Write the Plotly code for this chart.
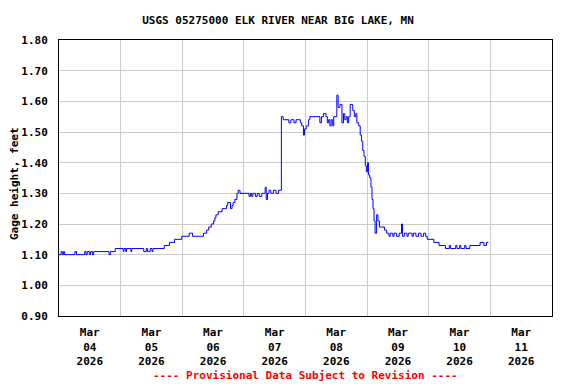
import pandas as pd
import plotly.graph_objects as go

# Hours after 2026-03-04 00:00 at which the reading changes, and the gage height (ft)
hours = [0.0, 0.8, 1.3, 1.8, 2.2, 6.2, 6.8, 10.0, 10.5, 11.0, 11.8, 12.3, 13.0, 13.5, 19.5, 20.0, 21.9,
         25.0, 25.3, 26.0, 26.3, 28.0, 28.3, 33.0, 34.0, 34.5, 35.5, 36.2, 36.6, 41.0, 43.0, 45.0, 47.8,
         50.7, 52.0, 56.3, 57.5, 58.3, 59.3, 60.2, 60.7, 61.1, 62.0, 63.5, 65.2, 65.7, 66.2, 66.8, 67.4,
         67.8, 68.5, 69.3, 69.8, 70.5,
         74.0, 74.5, 75.0, 75.5, 76.5, 77.2, 78.0, 79.0, 80.3, 80.7, 81.2, 81.8, 82.5, 83.5, 84.5, 85.5,
         86.6, 87.3, 89.5, 90.3, 91.5, 92.3, 94.0, 94.5, 95.2, 95.6,
         96.3, 97.2, 97.7, 101.6, 102.2, 103.0, 104.0, 104.5, 105.0, 105.5, 106.0, 106.6, 107.0, 108.2,
         108.7, 109.4, 110.2, 110.8, 111.3, 111.8, 112.3, 112.8, 113.4, 114.4, 115.0, 115.6, 116.0, 116.7,
         117.3, 117.8, 118.3, 118.8, 119.3, 119.7,
         120.2, 120.5, 121.0, 121.5, 121.9, 122.3, 122.7, 123.1, 123.7, 124.2, 124.8, 126.8, 127.6, 128.5,
         129.0, 130.0, 130.5, 131.5, 132.5, 133.4, 133.8, 134.5, 135.5, 136.0, 137.5, 138.0, 139.0, 140.0,
         141.0, 142.0, 142.8, 143.4,
         146.0, 148.0, 150.5, 152.0, 152.5, 154.5, 155.0, 156.0, 156.5, 158.0, 158.5, 160.0, 164.0, 165.5,
         166.5, 167.2]
gage_ft = [1.10, 1.11, 1.10, 1.11, 1.10, 1.11, 1.10, 1.11, 1.10, 1.11, 1.10, 1.11, 1.10, 1.11, 1.10, 1.11, 1.12,
           1.11, 1.12, 1.11, 1.12, 1.11, 1.12, 1.11, 1.12, 1.11, 1.12, 1.11, 1.12, 1.13, 1.14, 1.15, 1.16,
           1.17, 1.16, 1.17, 1.18, 1.19, 1.20, 1.21, 1.22, 1.23, 1.24, 1.25, 1.26, 1.27, 1.27, 1.25, 1.26,
           1.27, 1.28, 1.30, 1.31, 1.30,
           1.29, 1.30, 1.29, 1.30, 1.29, 1.30, 1.29, 1.30, 1.32, 1.28, 1.30, 1.31, 1.30, 1.31, 1.30, 1.31,
           1.55, 1.54, 1.53, 1.54, 1.53, 1.54, 1.53, 1.52, 1.49, 1.51,
           1.52, 1.54, 1.55, 1.53, 1.55, 1.56, 1.55, 1.53, 1.54, 1.52, 1.54, 1.52, 1.55, 1.62,
           1.58, 1.59, 1.53, 1.56, 1.54, 1.55, 1.53, 1.55, 1.59, 1.57, 1.55, 1.56, 1.53, 1.52,
           1.49, 1.47, 1.44, 1.42, 1.39, 1.37,
           1.40, 1.36, 1.35, 1.32, 1.28, 1.25, 1.21, 1.17, 1.23, 1.21, 1.19, 1.18, 1.17, 1.16,
           1.17, 1.16, 1.17, 1.16, 1.17, 1.20, 1.16, 1.17, 1.16, 1.17, 1.16, 1.17, 1.16, 1.17,
           1.16, 1.17, 1.16, 1.15,
           1.14, 1.13, 1.12, 1.13, 1.12, 1.13, 1.12, 1.13, 1.12, 1.13, 1.12, 1.13, 1.14, 1.13,
           1.14, 1.14]

start = pd.Timestamp("2026-03-04 00:00")
times = [start + pd.Timedelta(hours=h) for h in hours]

FONT = "DejaVu Sans Mono"
W, H = 568, 376  # page body has an 8px default margin

fig = go.Figure()
fig.add_trace(go.Scatter(x=times, y=gage_ft, mode="lines",
                         line=dict(color="#0000ff", width=1, shape="hv"),
                         showlegend=False))

fig.update_layout(
    width=W, height=H,
    margin=dict(l=51, r=24, t=32, b=68),
    paper_bgcolor="white", plot_bgcolor="white",
    font=dict(family=FONT, size=11, color="black", weight="bold"),
    title=dict(text="USGS 05275000 ELK RIVER NEAR BIG LAKE, MN",
               x=270 / W, xanchor="center", xref="container",
               y=1 - 12 / H, yanchor="middle", yref="container",
               font=dict(family=FONT, size=11, color="black", weight="bold")),
)

fig.update_xaxes(
    type="date",
    range=["2026-03-04", "2026-03-12"],
    tick0="2026-03-04", dtick=86400000,
    ticklabelmode="period",
    tickformat="%b<br>%d<br>%Y",
    showgrid=True, gridcolor="#cccccc", gridwidth=1,
    showline=True, linecolor="black", linewidth=1, mirror=True,
    ticks="", ticklabelstandoff=6,
    tickfont=dict(family=FONT, size=11, color="black", weight="bold"),
    zeroline=False,
)
fig.update_yaxes(
    range=[0.90, 1.80],
    tick0=0.90, dtick=0.10, tickformat=".2f",
    showgrid=True, gridcolor="#cccccc", gridwidth=1,
    showline=True, linecolor="black", linewidth=1, mirror=True,
    ticks="", ticklabelstandoff=8,
    tickfont=dict(family=FONT, size=11, color="black", weight="bold"),
    zeroline=False,
)

fig.add_annotation(text="Gage height, feet", textangle=-90,
                   xref="paper", yref="paper", x=(6 - 51) / 493, y=0.478,
                   xanchor="center", yanchor="middle", showarrow=False,
                   font=dict(family=FONT, size=11, color="black", weight="bold"))
fig.add_annotation(text="---- Provisional Data Subject to Revision ----",
                   xref="paper", yref="paper", x=0.5, y=(308 - 367) / 276,
                   xanchor="center", yanchor="middle", showarrow=False,
                   font=dict(family=FONT, size=11, color="#ff0000", weight="bold"))

fig.write_html("out.html")
